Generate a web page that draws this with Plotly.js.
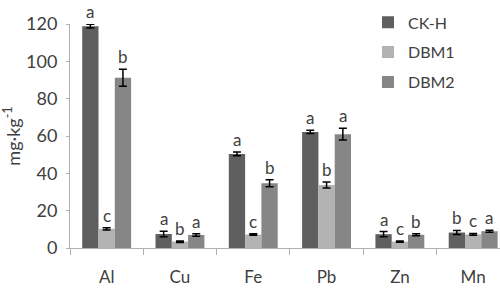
<!DOCTYPE html>
<html>
<head>
<meta charset="utf-8">
<script src="https://cdn.plot.ly/plotly-3.0.1.min.js"></script>
<style>html,body{margin:0;padding:0;background:#fff}#chart{width:500px;height:288px}</style>
</head>
<body>
<div id="chart"></div>
<script>
var categories = ["Al", "Cu", "Fe", "Pb", "Zn", "Mn"];
var seriesNames = ["CK-H", "DBM1", "DBM2"];
var ckhValues = [118.8, 7.5, 50.4, 62.2, 7.4, 8.3];
var ckhErrors = [1.0, 1.5, 1.0, 0.9, 1.4, 1.1];
var dbm1Values = [10.3, 3.4, 7.2, 33.8, 3.4, 7.3];
var dbm1Errors = [0.6, 0.4, 0.4, 1.6, 0.3, 0.5];
var dbm2Values = [91.2, 7.0, 34.7, 61.0, 7.1, 9.0];
var dbm2Errors = [4.5, 0.7, 1.9, 3.2, 0.6, 0.5];
var ckhLetters = ["a", "a", "a", "a", "a", "b"];
var dbm1Letters = ["c", "b", "c", "b", "c", "c"];
var dbm2Letters = ["b", "a", "b", "a", "b", "a"];
var colors = ["#5f5f5f", "#b3b3b3", "#868686"];

var vals = [ckhValues, dbm1Values, dbm2Values];
var errs = [ckhErrors, dbm1Errors, dbm2Errors];
var letters = [ckhLetters, dbm1Letters, dbm2Letters];

var margin = {l: 70, r: 0, t: 24, b: 40};
var W = 500, H = 288;
var xRange = [-0.5, 5.366];
var bargap = 0.333;
var FONT = "Lato, 'Open Sans', sans-serif";

var traces = seriesNames.map(function (name, i) {
  return {
    type: "bar",
    name: name,
    legendgroup: name,
    x: categories,
    y: vals[i],
    marker: {color: colors[i], line: {width: 0}},
    error_y: {type: "data", array: errs[i], visible: true, color: "#000", thickness: 1.5, width: 4}
  };
});

var plotW = W - margin.l - margin.r;
var catPx = plotW / (xRange[1] - xRange[0]);
var barPx = catPx * (1 - bargap) / 3;

var annotations = [];
for (var s = 0; s < 3; s++) {
  for (var c = 0; c < categories.length; c++) {
    annotations.push({
      x: categories[c], y: vals[s][c] + errs[s][c],
      xref: "x", yref: "y",
      text: letters[s][c], showarrow: false,
      xanchor: "center", yanchor: "bottom",
      xshift: (s - 1) * barPx, yshift: 0,
      font: {family: FONT, size: 17, color: "#404040"}
    });
  }
}

var layout = {
  width: W, height: H,
  margin: margin,
  paper_bgcolor: "#fff", plot_bgcolor: "#fff",
  barmode: "group", bargap: bargap, bargroupgap: 0,
  font: {family: FONT, size: 17, color: "#404040"},
  showlegend: true,
  legend: {
    x: 0.693, y: 1.083, xanchor: "left", yanchor: "top",
    bgcolor: "rgba(0,0,0,0)", font: {size: 16, color: "#404040"},
    tracegroupgap: 6, itemwidth: 30
  },
  xaxis: {
    type: "category", range: xRange,
    showline: true, linecolor: "#b0b0b0", linewidth: 1,
    ticks: "outside", tickson: "boundaries", ticklen: 6, tickcolor: "#b0b0b0",
    ticklabelstandoff: 14, tickfont: {size: 17},
    showgrid: false, zeroline: false, fixedrange: true
  },
  yaxis: {
    range: [0, 120], dtick: 20, tick0: 0,
    showline: true, linecolor: "#b0b0b0", linewidth: 1,
    ticks: "outside", ticklen: 3, tickcolor: "#b0b0b0",
    tickfont: {size: 18}, ticklabelstandoff: 5,
    showgrid: false, zeroline: false,
    title: {text: "mg·kg<sup>-1</sup>", standoff: 7, font: {size: 18, color: "#404040"}}
  },
  annotations: annotations
};

Plotly.newPlot("chart", traces, layout, {staticPlot: true, displayModeBar: false});
</script>
</body>
</html>
